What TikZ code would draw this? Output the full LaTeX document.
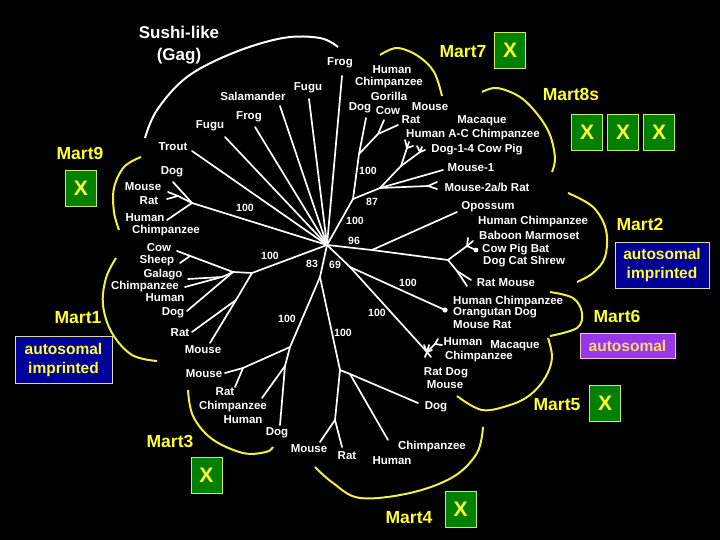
\documentclass[tikz,border=0pt]{standalone}
\usepackage{fontspec}
\setmainfont{Liberation Sans}
\definecolor{martyellow}{RGB}{255,255,51}
\definecolor{arcyellow}{RGB}{240,240,70}
\definecolor{xgreen}{RGB}{0,128,0}
\definecolor{xborder}{RGB}{200,235,110}
\definecolor{boxblue}{RGB}{0,0,150}
\definecolor{boxborder}{RGB}{220,220,170}
\definecolor{boxpurple}{RGB}{150,55,235}
\definecolor{purpleborder}{RGB}{255,190,220}
\definecolor{purpletext}{RGB}{255,215,110}
\begin{document}
\begin{tikzpicture}[x=1pt,y=-1pt,
  br/.style={draw=white, line width=1.7pt, line cap=round, line join=round},
  lab/.style={text=white, font=\bfseries\fontsize{11.5}{13}\selectfont, inner sep=0pt},
  labw/.style={lab, anchor=west},
  num/.style={text=white, font=\bfseries\fontsize{10.5}{12}\selectfont, inner sep=0pt},
  mart/.style={text=martyellow, font=\bfseries\fontsize{17.5}{20}\selectfont, inner sep=0pt},
  xbox/.style={draw=xborder, fill=xgreen, line width=0.9pt, text=martyellow,
    font=\bfseries\fontsize{21}{24}\selectfont, minimum width=31pt, minimum height=36pt, inner sep=0pt},
  infobox/.style={draw=boxborder, fill=boxblue, line width=0.9pt, text=martyellow, align=center,
    font=\bfseries\fontsize{15.5}{19}\selectfont, inner sep=0pt},
  yarc/.style={draw=arcyellow, line width=2pt},
  warc/.style={draw=white, line width=2pt}
]
\fill[black] (0,0) rectangle (720,540);
\useasboundingbox (0,0) rectangle (720,540);

% ---------- centre and fish / amphibian branches ----------
\coordinate (c) at (327,245);
\coordinate (fFrogA) at (342,76);
\coordinate (fFuguA) at (309,99);
\coordinate (fSal) at (280,106);
\coordinate (fFrogB) at (255,127);
\coordinate (fFuguB) at (225,137);
\coordinate (fTrout) at (192,151);
\foreach \p in {fFrogA,fFuguA,fSal,fFrogB,fFuguB,fTrout} \draw[br] (c) -- (\p);
\node[lab] (lFrogA) at (340,63) {Frog};
\node[lab] (lFuguA) at (308,88) {Fugu};
\node[lab] (lSal) at (253,96) {Salamander};
\node[lab] (lFrogB) at (249,117) {Frog};
\node[lab] (lFuguB) at (210,126) {Fugu};
\node[lab] (lTrout) at (173,147) {Trout};
\node[text=white, font=\bfseries\fontsize{17}{22}\selectfont, align=center, inner sep=0pt] (sushi) at (179,45) {Sushi-like\\(Gag)};
\draw[warc] plot[smooth, tension=0.6] coordinates {(145,138) (157,110) (187,77) (233,53) (283,38) (320,38) (338,47)};

% ---------- Mart7 / Mart8s cluster ----------
\coordinate (u1) at (353,199);
\coordinate (u2) at (359,154);
\coordinate (uDog) at (366,118);
\coordinate (u3) at (378,134);
\coordinate (uCow) at (384,120);
\coordinate (uRat) at (398,125);
\draw[br] (c) -- (u1) -- (u2) -- (uDog);
\draw[br] (u2) -- (u3) -- (uCow);
\draw[br] (u3) -- (uRat);
\node[lab] (lHum7) at (392,70) {Human};
\node[lab] (lChi7) at (389,83) {Chimpanzee};
\node[lab] (lGor7) at (389,96) {Gorilla};
\node[lab] (lDog7) at (360,108) {Dog};
\node[lab] (lCow7) at (388,111) {Cow};
\node[lab] (lMou7) at (430,107) {Mouse};
\node[lab] (lRat7) at (411,120) {Rat};
\draw[yarc] plot[smooth, tension=0.6] coordinates {(380,55) (397,48) (418,56) (434,72) (442,96)};
\node[mart] (mart7) at (463,52) {Mart7};
\node[xbox] (x7) at (510,50) {X};

\coordinate (A) at (380,188);
\coordinate (B) at (401,166);
\coordinate (C) at (407,148);
\coordinate (D) at (420,152);
\coordinate (m1end) at (443,170);
\coordinate (m2) at (428,186);
\draw[br] (u1) -- (A) -- (B) -- (C);
\draw[br] (B) -- (D);
\draw[br] (C) -- (405,140); \draw[br] (C) -- (409,142); \draw[br] (C) -- (413,146);
\draw[br] (D) -- (417,146); \draw[br] (D) -- (422,147); \draw[br] (D) -- (425,150);
\draw[br] (A) -- (m1end);
\draw[br] (A) -- (m2);
\draw[br] (m2) -- (437,182); \draw[br] (m2) -- (437,189);
\node[lab] (lMac8) at (482,121) {Macaque};
\node[lab] (lHAC) at (473,135) {Human A-C Chimpanzee};
\node[lab] (lD14) at (477,150) {Dog-1-4 Cow Pig};
\node[lab] (lM1) at (471,168) {Mouse-1};
\node[lab] (lM2) at (487,187) {Mouse-2a/b Rat};
\draw[yarc] plot[smooth, tension=0.6] coordinates {(482,92) (497,88) (520,97) (538,115) (550,135) (555,158) (552,172)};
\node[mart] (mart8) at (571,94) {Mart8s};
\node[xbox] (x8a) at (587,132) {X};
\node[xbox] (x8b) at (623,132) {X};
\node[xbox] (x8c) at (659,132) {X};

% ---------- Mart2 cluster ----------
\coordinate (r1) at (372,250);
\coordinate (rOpo) at (457,212);
\coordinate (r2) at (448,260);
\coordinate (r3) at (467,246);
\coordinate (rDot) at (476,250);
\coordinate (r4) at (457,271);
\draw[br] (c) -- (r1) -- (rOpo);
\draw[br] (r1) -- (r2) -- (r3) -- (rDot);
\draw[br] (r3) -- (468,238); \draw[br] (r3) -- (473,241);
\fill[white] (rDot) circle (2.4);
\draw[br] (r2) -- (r4) -- (471,280);
\draw[br] (r4) -- (467,286);
\node[lab] (lOpo) at (488,207) {Opossum};
\node[labw] (lHC2) at (478,222) {Human Chimpanzee};
\node[labw] (lBM2) at (479,235) {Baboon Marmoset};
\node[labw] (lCPB) at (482,250) {Cow Pig Bat};
\node[labw] (lDCS) at (483,262) {Dog Cat Shrew};
\node[lab] (lRM2) at (506,283) {Rat Mouse};
\draw[yarc] plot[smooth, tension=0.6] coordinates {(568,193) (593,207) (606,230) (605,257) (593,273) (577,282)};
\node[mart] (mart2) at (640,224) {Mart2};
\node[infobox, minimum width=94pt, minimum height=46pt] (box2) at (662,265) {autosomal\\imprinted};

% ---------- Mart6 / Mart5 ----------
\coordinate (M56) at (350,267);
\coordinate (m6) at (445,310);
\coordinate (m5) at (427,352);
\coordinate (m5b) at (435,344);
\draw[br] (c) -- (M56) -- (m6);
\fill[white] (m6) circle (2.6);
\draw[br] (M56) -- (m5);
\draw[br] (m5) -- (424,345); \draw[br] (m5) -- (429,345); \draw[br] (m5) -- (432,350);
\draw[br] (m5) -- (431,357); \draw[br] (m5) -- (425,357);
\draw[br] (m5) -- (m5b);
\draw[br] (m5b) -- (438,339); \draw[br] (m5b) -- (442,345);
\node[labw] (lHC6) at (453,302) {Human Chimpanzee};
\node[labw] (lOD6) at (453,313) {Orangutan Dog};
\node[labw] (lMR6) at (453,325) {Mouse Rat};
\draw[yarc] plot[smooth, tension=0.6] coordinates {(550,292) (573,298) (582,313) (577,328) (550,336)};
\node[mart] (mart6) at (617,316) {Mart6};
\node[draw=purpleborder, fill=boxpurple, line width=0.9pt, text=purpletext,
  font=\bfseries\fontsize{15.5}{19}\selectfont, minimum width=95pt, minimum height=25pt, inner sep=0pt] (box6) at (627.5,345.5) {autosomal};

\node[lab] (lHum5) at (463,342) {Human};
\node[lab] (lMac5) at (515,346) {Macaque};
\node[lab] (lChi5) at (479,357) {Chimpanzee};
\node[lab] (lRD5) at (446,373) {Rat Dog};
\node[lab] (lMou5) at (445,385) {Mouse};
\draw[yarc] plot[smooth, tension=0.6] coordinates {(548,338) (552,358) (545,378) (530,395) (510,405) (482,410) (457,396)};
\node[mart] (mart5) at (557,405) {Mart5};
\node[xbox] (x5) at (605,403) {X};

% ---------- Mart3 / Mart4 ----------
\coordinate (N83) at (320,277);
\coordinate (M3) at (290,347);
\coordinate (m3a) at (243,368);
\coordinate (m3b) at (285,366);
\coordinate (M4) at (340,370);
\coordinate (m4a) at (335,420);
\coordinate (m4b) at (350,374);
\draw[br] (c) -- (N83) -- (M3) -- (m3a) -- (225,373);
\draw[br] (m3a) -- (235,387);
\draw[br] (M3) -- (m3b) -- (262,398);
\draw[br] (m3b) -- (280,425);
\draw[br] (N83) -- (M4) -- (m4a) -- (320,442);
\draw[br] (m4a) -- (342,447);
\draw[br] (M4) -- (m4b) -- (418,403);
\draw[br] (m4b) -- (388,440);
\node[lab] (lMou3) at (204,374) {Mouse};
\node[lab] (lRat3) at (225,392) {Rat};
\node[lab] (lChi3) at (233,407) {Chimpanzee};
\node[lab] (lHum3) at (243,420) {Human};
\node[lab] (lDog3) at (277,433) {Dog};
\draw[yarc] plot[smooth, tension=0.6] coordinates {(188,390) (193,416) (212,439) (243,453) (266,452) (273,447)};
\node[mart] (mart3) at (170,441) {Mart3};
\node[xbox] (x3) at (206.5,475) {X};

\node[lab] (lMou4) at (309,449) {Mouse};
\node[lab] (lRat4) at (347,456) {Rat};
\node[lab] (lDog4) at (436,407) {Dog};
\node[lab] (lChi4) at (432,447) {Chimpanzee};
\node[lab] (lHum4) at (392,461) {Human};
\draw[yarc] plot[smooth, tension=0.6] coordinates {(315,467) (333,483) (360,498) (410,493) (453,477) (477,453) (483,427)};
\node[mart] (mart4) at (409,518) {Mart4};
\node[xbox] (x4) at (460.5,509) {X};

% ---------- Mart9 ----------
\coordinate (n9) at (192,203);
\coordinate (n9b) at (178,196);
\draw[br] (c) -- (n9) -- (173,182);
\draw[br] (n9) -- (n9b) -- (168,192);
\draw[br] (n9b) -- (167,199);
\draw[br] (n9) -- (167,220);
\node[lab] (lDog9) at (172,172) {Dog};
\node[lab] (lMou9) at (143,187) {Mouse};
\node[lab] (lRat9) at (149,201) {Rat};
\node[lab] (lHum9) at (145,218) {Human};
\node[lab] (lChi9) at (166,231) {Chimpanzee};
\draw[yarc] plot[smooth, tension=0.6] coordinates {(141,157) (124,167) (114,188) (114,212) (119,230)};
\node[mart] (mart9) at (80,153) {Mart9};
\node[xbox] (x9) at (81,188.5) {X};

% ---------- Mart1 ----------
\coordinate (n1) at (252,273);
\coordinate (n1a) at (233,272);
\coordinate (n1b) at (222,277);
\coordinate (n1c) at (236,300);
\coordinate (sheepJ) at (190,256);
\draw[br] (c) -- (n1) -- (n1a) -- (177,251);
\draw[br] (sheepJ) -- (180,263);
\draw[br] (n1a) -- (n1b) -- (188,279);
\draw[br] (n1b) -- (185,287);
\draw[br] (n1a) -- (187,311);
\draw[br] (n1) -- (n1c) -- (192,332);
\draw[br] (n1c) -- (210,343);
\node[lab] (lCow1) at (159,248) {Cow};
\node[lab] (lShe1) at (157,261) {Sheep};
\node[lab] (lGal1) at (163,275) {Galago};
\node[lab] (lChi1) at (145,287) {Chimpanzee};
\node[lab] (lHum1) at (165,298) {Human};
\node[lab] (lDog1) at (173,313) {Dog};
\node[lab] (lRat1) at (180,333) {Rat};
\node[lab] (lMou1) at (203,350) {Mouse};
\draw[yarc] plot[smooth, tension=0.6] coordinates {(116,258) (106,278) (103,305) (112,333) (132,355) (157,361)};
\node[mart] (mart1) at (78,318) {Mart1};
\node[infobox, minimum width=97pt, minimum height=47pt] (box1) at (63.5,359.5) {autosomal\\imprinted};

% ---------- bootstrap values ----------
\node[num] (b1) at (245,208) {100};
\node[num] (b2) at (270,256) {100};
\node[num] (b3) at (355,221) {100};
\node[num] (b4) at (368,171) {100};
\node[num] (b5) at (372,202) {87};
\node[num] (b6) at (354,241) {96};
\node[num] (b7) at (312,264) {83};
\node[num] (b8) at (335,265) {69};
\node[num] (b9) at (287,319) {100};
\node[num] (b10) at (343,333) {100};
\node[num] (b11) at (377,313) {100};
\node[num] (b12) at (408,283) {100};
\end{tikzpicture}
\end{document}
